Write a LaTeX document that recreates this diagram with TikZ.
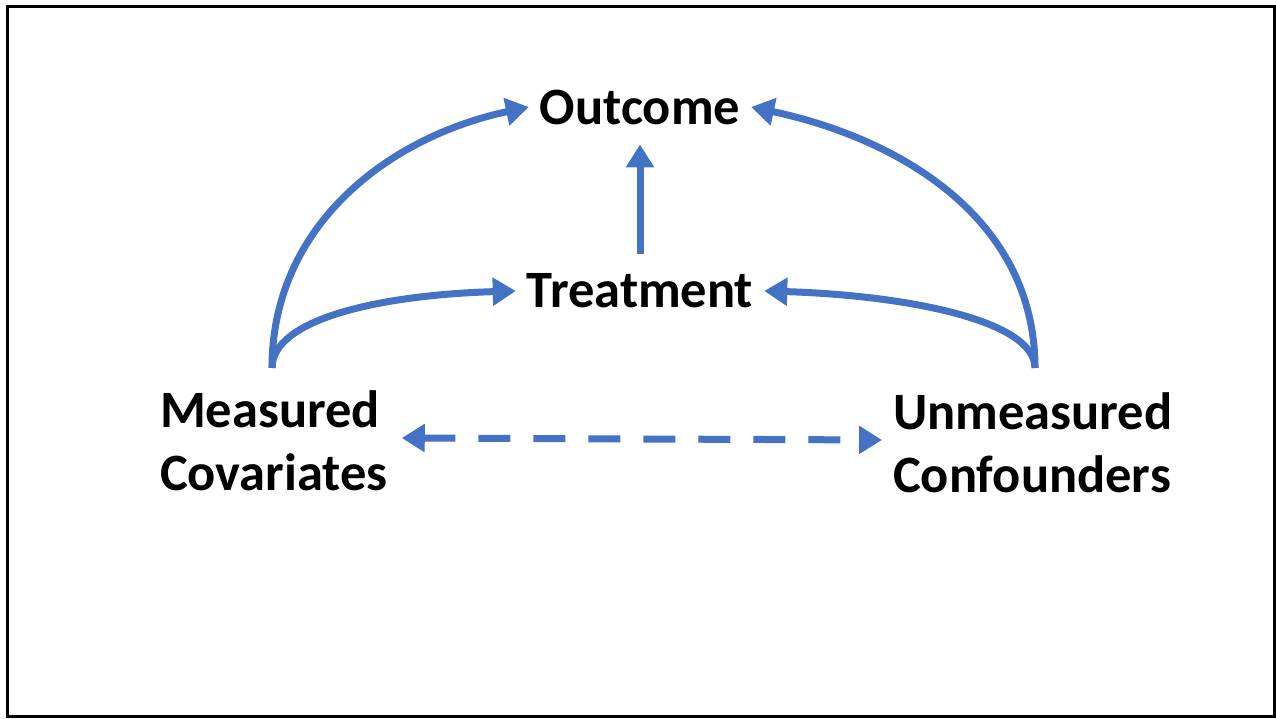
\documentclass[tikz,border=0pt]{standalone}
\usepackage{fontspec}
\setmainfont{Carlito}
\usetikzlibrary{arrows.meta}
\definecolor{arrowblue}{HTML}{4472C4}
\tikzset{
  lbl/.style={font=\fontsize{52.5}{63}\selectfont\bfseries, inner xsep=11pt, inner ysep=4pt, outer sep=0pt},
  edge/.style={draw=arrowblue, line width=7pt, -{Triangle[length=23pt,width=27pt]}},
}
\begin{document}
\begin{tikzpicture}[x=1pt,y=1pt]
\useasboundingbox (0,0) rectangle (1276,719);
\draw[line width=3pt] (7.5,712.5) rectangle (1274,2);

\node[lbl] (outcome) at (640,612){Outcome};
\node[lbl] (treatment) at (640,428){Treatment};
\node[lbl, align=left, anchor=west, inner xsep=0pt] (measured) at (160,278){Measured\\Covariates};
\node[lbl, align=left, anchor=west, inner xsep=0pt] (unmeasured) at (893,276){Unmeasured\\Confounders};
\coordinate (mc) at (272,351);
\coordinate (uc) at (1035,351);

\draw[edge] (mc) to[out=90, in=192] (outcome.west);
\draw[edge] (mc) .. controls (272,400) and (380,424) .. (treatment.west);
\draw[edge] (uc) to[out=90, in=-12] (outcome.east);
\draw[edge] (uc) .. controls (1035,400) and (900,424) .. (treatment.east);
\draw[edge, shorten <=16pt, shorten >=16pt] (treatment.north) -- (outcome.south);
\draw[edge, {Triangle[length=23pt,width=27pt]}-{Triangle[length=23pt,width=27pt]}, dash pattern=on 32pt off 23pt]
  ([xshift=14pt]measured.east |- 0,281) -- ([xshift=-11pt]unmeasured.west |- 0,279);

\end{tikzpicture}
\end{document}
